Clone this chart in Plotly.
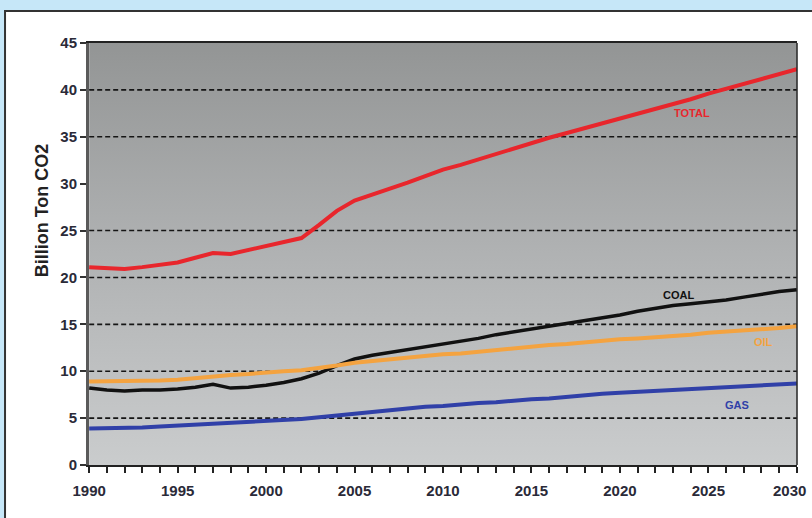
import plotly.graph_objects as go

# Annual CO2 emissions by fuel, billion tonnes
years = list(range(1990, 2031))

total = [21.1, 21.0, 20.9, 21.1, 21.3, 21.6, 22.1, 22.6, 22.5, 22.9,
         23.3, 23.7, 24.2, 25.6, 27.1, 28.2, 28.8, 29.5, 30.1, 30.8,
         31.5, 32.0, 32.6, 33.2, 33.8, 34.4, 34.9, 35.4, 35.9, 36.5,
         37.0, 37.5, 38.0, 38.5, 39.0, 39.6, 40.1, 40.6, 41.1, 41.6,
         42.2]
coal = [8.2, 8.0, 7.9, 8.0, 8.0, 8.1, 8.3, 8.6, 8.2, 8.3,
        8.5, 8.8, 9.2, 9.8, 10.6, 11.3, 11.7, 12.0, 12.3, 12.6,
        12.9, 13.2, 13.5, 13.9, 14.2, 14.5, 14.8, 15.1, 15.4, 15.7,
        16.0, 16.4, 16.7, 17.0, 17.2, 17.4, 17.6, 17.9, 18.2, 18.5,
        18.7]
oil = [8.9, 8.9, 8.9, 8.9, 9.0, 9.1, 9.3, 9.5, 9.6, 9.7,
       9.9, 10.0, 10.1, 10.3, 10.6, 10.9, 11.1, 11.3, 11.5, 11.6,
       11.8, 11.9, 12.1, 12.3, 12.4, 12.6, 12.8, 12.9, 13.1, 13.2,
       13.4, 13.5, 13.6, 13.8, 13.9, 14.1, 14.2, 14.4, 14.5, 14.6,
       14.8]
gas = [3.9, 3.9, 4.0, 4.0, 4.1, 4.2, 4.3, 4.4, 4.4, 4.5,
       4.6, 4.7, 4.9, 5.1, 5.3, 5.5, 5.7, 5.9, 6.0, 6.2,
       6.3, 6.5, 6.6, 6.7, 6.9, 7.0, 7.1, 7.3, 7.4, 7.6,
       7.7, 7.8, 7.9, 8.0, 8.1, 8.2, 8.3, 8.4, 8.5, 8.6,
       8.7]

series_names = ["TOTAL", "COAL", "OIL", "GAS"]
series_colors = ["#e8262c", "#111111", "#f4a340", "#3040a8"]
series_widths = [4, 3.5, 4, 4]
# label anchor points (year, value) placed beside each line
label_pos = [(2024.1, 37.5), (2023.3, 18.1), (2028.1, 13.1), (2026.6, 6.4)]

x_ticks = list(range(1990, 2031, 5))
x_tick_text = [str(v) for v in x_ticks]
y_ticks = list(range(0, 46, 5))
grid_values = [5, 10, 15, 20, 25, 35, 40]
x_min, x_max, y_min, y_max = 1990, 2030, 0, 45

fig = go.Figure()

# gradient plot background: dark grey at the top fading to light grey
fig.add_trace(go.Scatter(
    x=[x_min, x_max, x_max, x_min, x_min],
    y=[y_min, y_min, y_max, y_max, y_min],
    fill="toself", mode="lines", line=dict(width=0),
    fillgradient=dict(type="vertical",
                      colorscale=[[0, "#cacccd"], [0.5, "#b0b2b3"], [1, "#939595"]]),
    hoverinfo="skip", showlegend=False))

# dashed horizontal reference lines
gx, gy = [], []
for v in grid_values:
    gx += [x_min, x_max, None]
    gy += [v, v, None]
fig.add_trace(go.Scatter(x=gx, y=gy, mode="lines",
                         line=dict(color="#151515", width=1.6, dash="5px,3px"),
                         hoverinfo="skip", showlegend=False))

for name, vals, col, w in zip(series_names, [total, coal, oil, gas],
                              series_colors, series_widths):
    fig.add_trace(go.Scatter(x=years, y=vals, mode="lines", name=name,
                             line=dict(color=col, width=w),
                             showlegend=False))

for name, col, (lx, ly) in zip(series_names, series_colors, label_pos):
    fig.add_annotation(x=lx, y=ly, text=name, showarrow=False,
                       font=dict(family="Liberation Sans, Arial, sans-serif",
                                 size=11, color=col, weight="bold"))

fig.add_annotation(xref="paper", yref="paper", x=-0.083, y=0.604,
                   text="Billion Ton CO2", textangle=-90, showarrow=False,
                   font=dict(family="Liberation Sans, Arial, sans-serif",
                             size=18, color="#222222", weight="bold"))

tick_font = dict(family="Liberation Sans, Arial, sans-serif",
                 size=15, color="#2a2a38", weight="bold")

# the last year label is right-aligned so it stays inside the page
fig.add_annotation(xref="paper", yref="paper", x=1.0155, y=0,
                   xanchor="right", yanchor="middle", yshift=-25,
                   text=x_tick_text[-1], showarrow=False, font=tick_font)
axis_tick_text = x_tick_text[:-1] + [""]

fig.update_layout(
    width=812, height=518,
    margin=dict(l=89, r=15, t=43, b=53, autoexpand=False),
    paper_bgcolor="#c6e7f8",
    plot_bgcolor="#b0b2b3",
    shapes=[
        # white framed panel behind the chart
        dict(type="rect", xref="paper", yref="paper",
             x0=-0.1186, x1=1.05, y0=-0.25, y1=1.0758,
             fillcolor="white", line=dict(color="#333333", width=2),
             layer="below"),
        # right border of plot area
        dict(type="line", xref="paper", yref="paper",
             x0=1, x1=1, y0=0, y1=1,
             line=dict(color="#222222", width=1.5), layer="above"),
    ],
    xaxis=dict(range=[x_min - 0.01, x_max + 0.01], tickvals=x_ticks,
               ticktext=axis_tick_text,
               ticks="outside", ticklen=6, tickwidth=1.5, tickcolor="#222222",
               minor=dict(dtick=1, ticks="outside", ticklen=6, tickwidth=1.5,
                          tickcolor="#222222", showgrid=False),
               showgrid=False, zeroline=False, automargin=False,
               showline=True, linecolor="#222222", linewidth=2, mirror=True,
               tickfont=tick_font, ticklabelstandoff=5),
    yaxis=dict(range=[y_min, y_max], tickvals=y_ticks,
               ticks="outside", ticklen=6, tickwidth=1.5, tickcolor="#333333",
               showgrid=False, zeroline=False, automargin=False,
               showline=True, linecolor="#5a5a5a", linewidth=3,
               tickfont=tick_font),
)

fig.write_html("out.html")
